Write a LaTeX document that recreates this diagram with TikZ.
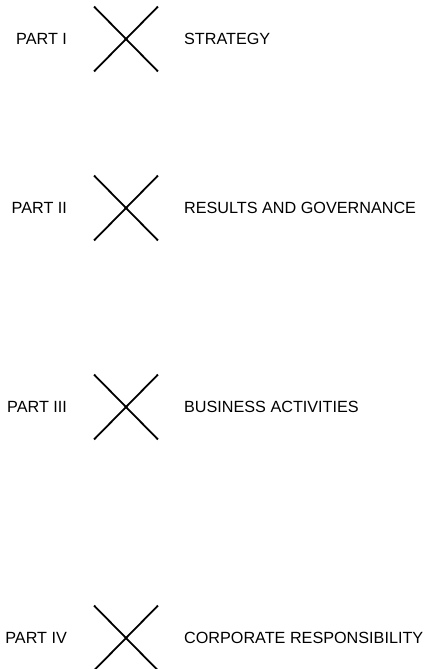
\documentclass[tikz,border=0pt]{standalone}
\usepackage{fontspec}
\setmainfont{Liberation Sans}
\usetikzlibrary{shapes.misc,positioning}
\tikzset{
    x=1pt,y=-1pt,
    xmark/.style={cross out, draw, line width=1.8pt, inner sep=0pt, minimum width=62pt, minimum height=63pt},
    part/.style={inner sep=0pt, font=\fontsize{16.2}{19}\selectfont},
    title/.style={inner sep=0pt, font=\fontsize{16.2}{19}\selectfont}
}

\begin{document}
\begin{tikzpicture}
    \useasboundingbox (0,0) rectangle (426,669);
    \node[xmark] (c1) at (126,39) {};
      \node[xmark] (c2) at (126,208) {};
     \node[xmark] (c3) at (126,407) {};
       \node[xmark] (c4) at (126,638) {};

    \node[part, left=27pt of c1] (p1) {PART I};
     \node[part, left=27pt of c2] (p2) {PART II};
     \node[part, left=27pt of c3] (p3) {PART III};
     \node[part, left=27pt of c4] (p4) {PART IV};

    \node[title, right=26pt of c1] (t1) {STRATEGY};
     \node[title, right=26pt of c2] (t2) {RESULTS AND GOVERNANCE};
     \node[title, right=26pt of c3] (t3) {BUSINESS ACTIVITIES};
     \node[title, right=26pt of c4] (t4) {CORPORATE RESPONSIBILITY};

\end{tikzpicture}
\end{document}
